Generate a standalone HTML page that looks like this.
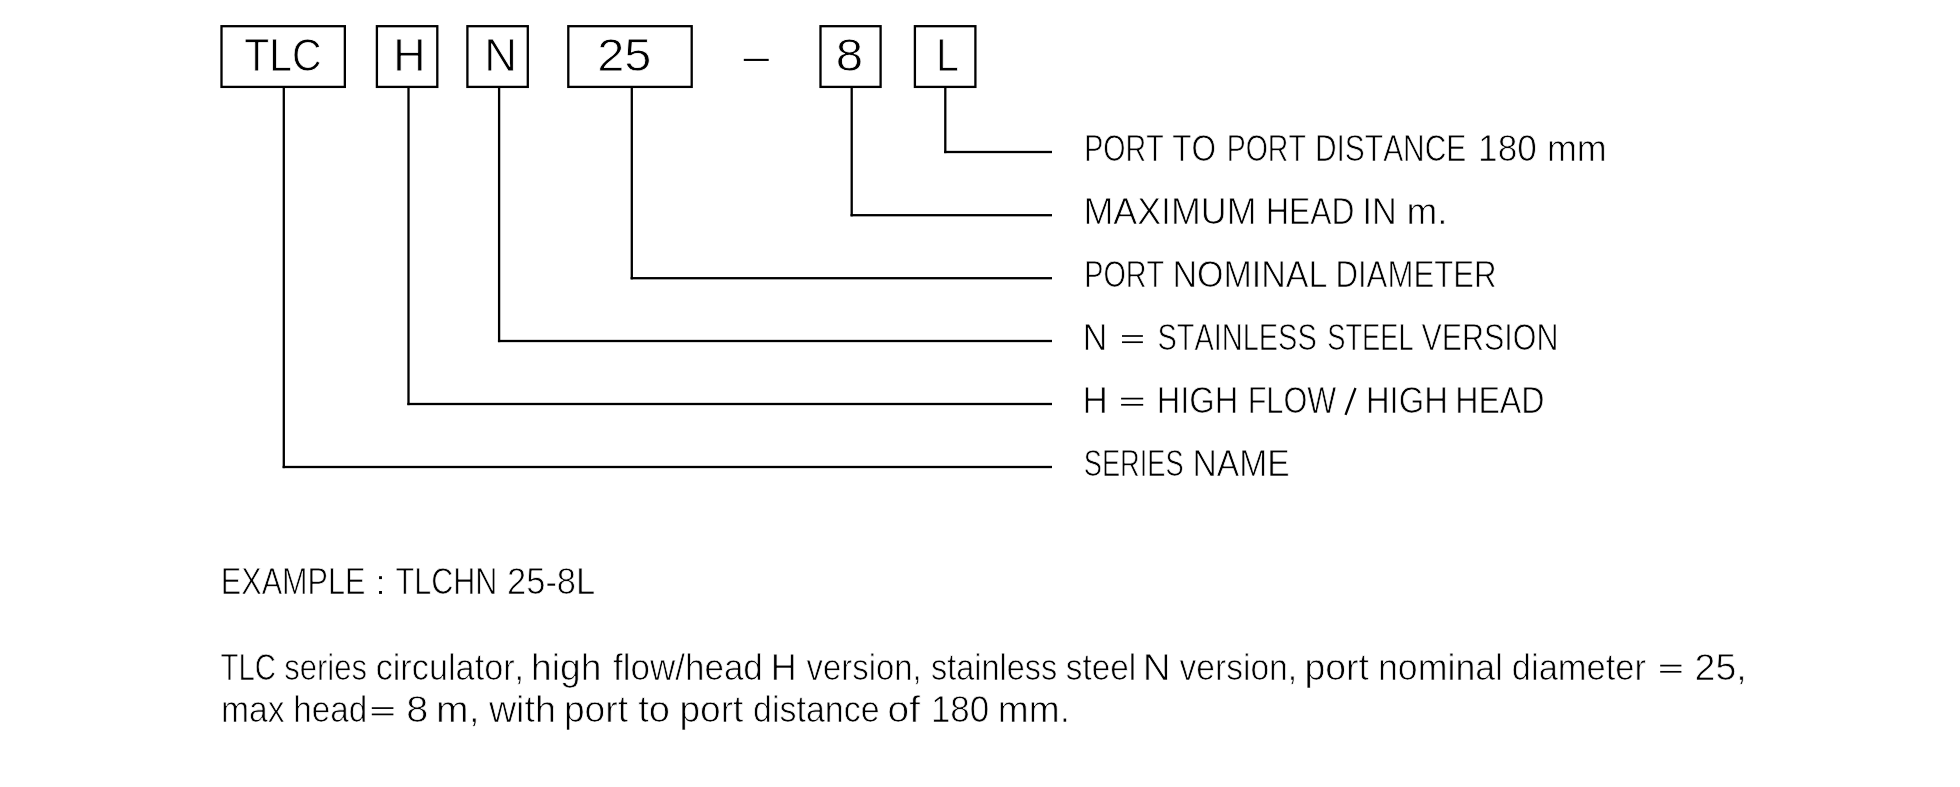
<!DOCTYPE html>
<html><head><meta charset="utf-8">
<style>
html,body{margin:0;padding:0;background:#fff;}
body{width:1960px;height:787px;overflow:hidden;}
svg{display:block;will-change:transform;}
text{font-family:"Liberation Sans",sans-serif;font-kerning:none;}
</style></head>
<body>
<svg width="1960" height="787" viewBox="0 0 1960 787">
<rect x="0" y="0" width="1960" height="787" fill="#fff"/>
<g fill="none" stroke="#000" stroke-width="2.3">
<rect x="221.50" y="26.20" width="123.35" height="60.70"/>
<rect x="376.90" y="26.20" width="60.40" height="60.70"/>
<rect x="467.40" y="26.20" width="60.40" height="60.70"/>
<rect x="568.30" y="26.20" width="123.40" height="60.70"/>
<rect x="820.50" y="26.20" width="60.10" height="60.70"/>
<rect x="914.90" y="26.20" width="60.50" height="60.70"/>
</g>
<g fill="#000">
<rect x="743.8" y="58.85" width="24.90" height="2.1"/>
<rect x="282.65" y="86.90" width="2.3" height="381.25"/>
<rect x="282.65" y="465.85" width="769.35" height="2.3"/>
<rect x="407.35" y="86.90" width="2.3" height="318.25"/>
<rect x="407.35" y="402.85" width="644.65" height="2.3"/>
<rect x="497.95" y="86.90" width="2.3" height="255.25"/>
<rect x="497.95" y="339.85" width="554.05" height="2.3"/>
<rect x="630.65" y="86.90" width="2.3" height="192.45"/>
<rect x="630.65" y="277.05" width="421.35" height="2.3"/>
<rect x="850.55" y="86.90" width="2.3" height="129.45"/>
<rect x="850.55" y="214.05" width="201.45" height="2.3"/>
<rect x="944.15" y="86.90" width="2.3" height="66.25"/>
<rect x="944.15" y="150.85" width="107.85" height="2.3"/>
<rect x="1122.0" y="335.15" width="20.90" height="1.7"/>
<rect x="1122.0" y="341.35" width="20.90" height="1.7"/>
<rect x="1121.1" y="397.75" width="22.10" height="1.7"/>
<rect x="1121.1" y="403.95" width="22.10" height="1.7"/>
<rect x="1660.2" y="664.75" width="21.20" height="1.7"/>
<rect x="1660.2" y="670.95" width="21.20" height="1.7"/>
<rect x="371.8" y="707.25" width="21.60" height="1.7"/>
<rect x="371.8" y="713.55" width="21.60" height="1.7"/>
</g>
<line x1="1345.5" y1="414.8" x2="1355.5" y2="388.0" stroke="#000" stroke-width="2.3"/>
<rect x="379.05" y="576.2" width="2.9" height="2.9" fill="#000"/>
<rect x="379.05" y="591.0" width="2.9" height="2.9" fill="#000"/>
<g fill="#000" stroke="#fff" stroke-linejoin="round">
<text x="244.27" y="71" font-size="45.6" stroke-width="0.8" textLength="77.20" lengthAdjust="spacingAndGlyphs">TLC</text>
<text x="393.22" y="71" font-size="45.6" stroke-width="0.8" textLength="32.29" lengthAdjust="spacingAndGlyphs">H</text>
<text x="484.25" y="71" font-size="45.6" stroke-width="0.8" textLength="32.81" lengthAdjust="spacingAndGlyphs">N</text>
<text x="597.23" y="71" font-size="45.6" stroke-width="0.8" textLength="54.28" lengthAdjust="spacingAndGlyphs">25</text>
<text x="835.68" y="71" font-size="45.6" stroke-width="0.8" textLength="27.37" lengthAdjust="spacingAndGlyphs">8</text>
<text x="935.88" y="71" font-size="45.6" stroke-width="0.8" textLength="22.84" lengthAdjust="spacingAndGlyphs">L</text>
<text x="1084.22" y="161" font-size="36.9" stroke-width="0.75" textLength="79.39" lengthAdjust="spacingAndGlyphs">PORT</text>
<text x="1172.28" y="161" font-size="36.9" stroke-width="0.75" textLength="43.80" lengthAdjust="spacingAndGlyphs">TO</text>
<text x="1226.72" y="161" font-size="36.9" stroke-width="0.75" textLength="79.07" lengthAdjust="spacingAndGlyphs">PORT</text>
<text x="1314.94" y="161" font-size="36.9" stroke-width="0.75" textLength="151.37" lengthAdjust="spacingAndGlyphs">DISTANCE</text>
<text x="1478.08" y="161" font-size="36.9" stroke-width="0.75" textLength="58.67" lengthAdjust="spacingAndGlyphs">180</text>
<text x="1546.94" y="161" font-size="36.9" stroke-width="0.75" textLength="59.84" lengthAdjust="spacingAndGlyphs">mm</text>
<text x="1083.43" y="224" font-size="36.9" stroke-width="0.75" textLength="173.16" lengthAdjust="spacingAndGlyphs">MAXIMUM</text>
<text x="1265.97" y="224" font-size="36.9" stroke-width="0.75" textLength="88.42" lengthAdjust="spacingAndGlyphs">HEAD</text>
<text x="1362.54" y="224" font-size="36.9" stroke-width="0.75" textLength="34.28" lengthAdjust="spacingAndGlyphs">IN</text>
<text x="1406.59" y="224" font-size="36.9" stroke-width="0.75" textLength="41.06" lengthAdjust="spacingAndGlyphs">m.</text>
<text x="1084.22" y="287" font-size="36.9" stroke-width="0.75" textLength="79.91" lengthAdjust="spacingAndGlyphs">PORT</text>
<text x="1172.45" y="287" font-size="36.9" stroke-width="0.75" textLength="155.03" lengthAdjust="spacingAndGlyphs">NOMINAL</text>
<text x="1335.45" y="287" font-size="36.9" stroke-width="0.75" textLength="161.11" lengthAdjust="spacingAndGlyphs">DIAMETER</text>
<text x="1082.83" y="350" font-size="36.9" stroke-width="0.75" textLength="24.59" lengthAdjust="spacingAndGlyphs">N</text>
<text x="1157.56" y="350" font-size="36.9" stroke-width="0.75" textLength="159.17" lengthAdjust="spacingAndGlyphs">STAINLESS</text>
<text x="1327.28" y="350" font-size="36.9" stroke-width="0.75" textLength="86.39" lengthAdjust="spacingAndGlyphs">STEEL</text>
<text x="1421.53" y="350" font-size="36.9" stroke-width="0.75" textLength="136.86" lengthAdjust="spacingAndGlyphs">VERSION</text>
<text x="1082.49" y="413" font-size="36.9" stroke-width="0.75" textLength="25.32" lengthAdjust="spacingAndGlyphs">H</text>
<text x="1156.71" y="413" font-size="36.9" stroke-width="0.75" textLength="81.68" lengthAdjust="spacingAndGlyphs">HIGH</text>
<text x="1247.64" y="413" font-size="36.9" stroke-width="0.75" textLength="88.64" lengthAdjust="spacingAndGlyphs">FLOW</text>
<text x="1365.92" y="413" font-size="36.9" stroke-width="0.75" textLength="81.96" lengthAdjust="spacingAndGlyphs">HIGH</text>
<text x="1455.18" y="413" font-size="36.9" stroke-width="0.75" textLength="89.38" lengthAdjust="spacingAndGlyphs">HEAD</text>
<text x="1083.81" y="476" font-size="36.9" stroke-width="0.75" textLength="99.78" lengthAdjust="spacingAndGlyphs">SERIES</text>
<text x="1192.56" y="476" font-size="36.9" stroke-width="0.75" textLength="97.13" lengthAdjust="spacingAndGlyphs">NAME</text>
<text x="220.84" y="594" font-size="36.9" stroke-width="0.75" textLength="144.53" lengthAdjust="spacingAndGlyphs">EXAMPLE</text>
<text x="395.51" y="594" font-size="36.9" stroke-width="0.75" textLength="101.86" lengthAdjust="spacingAndGlyphs">TLCHN</text>
<text x="507.02" y="594" font-size="36.9" stroke-width="0.75" textLength="88.21" lengthAdjust="spacingAndGlyphs">25-8L</text>
<text x="220.49" y="680" font-size="36.9" stroke-width="0.75" textLength="55.55" lengthAdjust="spacingAndGlyphs">TLC</text>
<text x="284.21" y="680" font-size="36.9" stroke-width="0.75" textLength="82.75" lengthAdjust="spacingAndGlyphs">series</text>
<text x="375.63" y="680" font-size="36.9" stroke-width="0.75" textLength="148.51" lengthAdjust="spacingAndGlyphs">circulator,</text>
<text x="531.09" y="680" font-size="36.9" stroke-width="0.75" textLength="70.35" lengthAdjust="spacingAndGlyphs">high</text>
<text x="612.92" y="680" font-size="36.9" stroke-width="0.75" textLength="149.95" lengthAdjust="spacingAndGlyphs">flow/head</text>
<text x="770.63" y="680" font-size="36.9" stroke-width="0.75" textLength="25.96" lengthAdjust="spacingAndGlyphs">H</text>
<text x="806.60" y="680" font-size="36.9" stroke-width="0.75" textLength="115.10" lengthAdjust="spacingAndGlyphs">version,</text>
<text x="931.04" y="680" font-size="36.9" stroke-width="0.75" textLength="126.16" lengthAdjust="spacingAndGlyphs">stainless</text>
<text x="1065.87" y="680" font-size="36.9" stroke-width="0.75" textLength="70.37" lengthAdjust="spacingAndGlyphs">steel</text>
<text x="1142.77" y="680" font-size="36.9" stroke-width="0.75" textLength="27.86" lengthAdjust="spacingAndGlyphs">N</text>
<text x="1179.59" y="680" font-size="36.9" stroke-width="0.75" textLength="117.52" lengthAdjust="spacingAndGlyphs">version,</text>
<text x="1304.45" y="680" font-size="36.9" stroke-width="0.75" textLength="64.59" lengthAdjust="spacingAndGlyphs">port</text>
<text x="1378.01" y="680" font-size="36.9" stroke-width="0.75" textLength="125.06" lengthAdjust="spacingAndGlyphs">nominal</text>
<text x="1511.84" y="680" font-size="36.9" stroke-width="0.75" textLength="134.22" lengthAdjust="spacingAndGlyphs">diameter</text>
<text x="1694.60" y="680" font-size="36.9" stroke-width="0.75" textLength="52.11" lengthAdjust="spacingAndGlyphs">25,</text>
<text x="220.88" y="722" font-size="36.9" stroke-width="0.75" textLength="63.65" lengthAdjust="spacingAndGlyphs">max</text>
<text x="293.16" y="722" font-size="36.9" stroke-width="0.75" textLength="74.05" lengthAdjust="spacingAndGlyphs">head</text>
<text x="406.18" y="722" font-size="36.9" stroke-width="0.75" textLength="22.07" lengthAdjust="spacingAndGlyphs">8</text>
<text x="436.11" y="722" font-size="36.9" stroke-width="0.75" textLength="43.38" lengthAdjust="spacingAndGlyphs">m,</text>
<text x="488.90" y="722" font-size="36.9" stroke-width="0.75" textLength="66.99" lengthAdjust="spacingAndGlyphs">with</text>
<text x="563.88" y="722" font-size="36.9" stroke-width="0.75" textLength="64.16" lengthAdjust="spacingAndGlyphs">port</text>
<text x="638.26" y="722" font-size="36.9" stroke-width="0.75" textLength="31.86" lengthAdjust="spacingAndGlyphs">to</text>
<text x="679.47" y="722" font-size="36.9" stroke-width="0.75" textLength="63.95" lengthAdjust="spacingAndGlyphs">port</text>
<text x="753.03" y="722" font-size="36.9" stroke-width="0.75" textLength="126.57" lengthAdjust="spacingAndGlyphs">distance</text>
<text x="887.57" y="722" font-size="36.9" stroke-width="0.75" textLength="32.45" lengthAdjust="spacingAndGlyphs">of</text>
<text x="930.88" y="722" font-size="36.9" stroke-width="0.75" textLength="58.38" lengthAdjust="spacingAndGlyphs">180</text>
<text x="997.79" y="722" font-size="36.9" stroke-width="0.75" textLength="72.17" lengthAdjust="spacingAndGlyphs">mm.</text>
</g>
</svg>
</body></html>
